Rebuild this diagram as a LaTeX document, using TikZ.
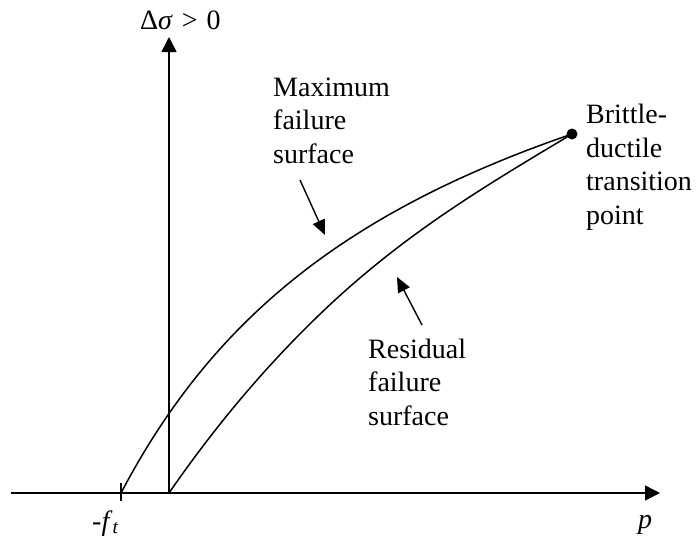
\documentclass[tikz,border=0pt]{standalone}
\usepackage{fontspec}
\setmainfont{Liberation Serif}
\usetikzlibrary{arrows.meta}
\begin{document}
\begin{tikzpicture}[x=1pt,y=-1pt,
  axis/.style={line width=1.6pt,-{Triangle[length=15pt,width=15pt]}},
  curve/.style={line width=1.5pt},
  pointer/.style={line width=1.4pt,-{Triangle[length=15pt,width=13pt]}},
  lbl/.style={font=\fontsize{28}{33.5}\selectfont, inner sep=0pt, align=left, anchor=base west}]
\useasboundingbox (0,0) rectangle (700,544);
% axes
\coordinate (O) at (169,493);
\coordinate (xl) at (11,493);
\coordinate (xr) at (660,493);
\coordinate (yt) at (169,37);
\draw[axis] (xl) -- (xr);
\draw[axis] (O) -- (yt);
% tick at -f_t
\coordinate (F) at (121,493);
\coordinate (Ft) at (121,483);
\coordinate (Fb) at (121,501);
\draw[line width=1.6pt] (Ft) -- (Fb);
% transition point
\node[circle,fill,inner sep=0pt,minimum size=11pt] (D) at (572,134) {};
\coordinate (R) at (317,317);
% curves
\draw[curve] (F) .. controls (211,322) and (342,213) .. (D.center);
\draw[curve] (O) .. controls (218,422) and (268,364.5) .. (R)
                 .. controls (402,234.5) and (487,185) .. (D.center);
% labels (base = baseline of last line)
\node[lbl] (ylab) at (140,29) {Δ\textit{σ}\hspace{0.32em}>\hspace{0.32em}0};
\node[lbl] (ft) at (92,530) {-\textit{f}\textsubscript{\textit{t}}};
\node[lbl] (plab) at (638,528) {\textit{p}};
\node[lbl] (maxl) at (273,163) {Maximum\\failure\\surface};
\node[lbl] (resl) at (368,425) {Residual\\failure\\surface};
\node[lbl] (bdl) at (586,224) {Brittle-\\ductile\\transition\\point};
% pointers
\coordinate (m1) at (300,180);
\coordinate (m2) at (325,235);
\draw[pointer] (m1) -- (m2);
\coordinate (r1) at (422,325);
\coordinate (r2) at (397,277);
\draw[pointer] (r1) -- (r2);
\end{tikzpicture}
\end{document}
